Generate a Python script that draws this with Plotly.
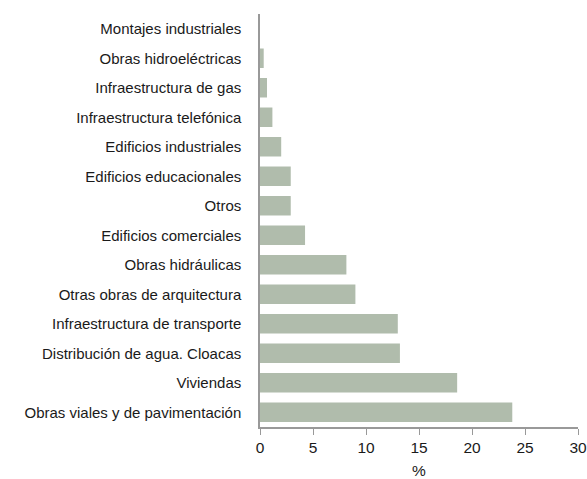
import plotly.graph_objects as go

categories = [
    "Montajes industriales",
    "Obras hidroeléctricas",
    "Infraestructura de gas",
    "Infraestructura telefónica",
    "Edificios industriales",
    "Edificios educacionales",
    "Otros",
    "Edificios comerciales",
    "Obras hidráulicas",
    "Otras obras de arquitectura",
    "Infraestructura de transporte",
    "Distribución de agua. Cloacas",
    "Viviendas",
    "Obras viales y de pavimentación",
]
values = [0.0, 0.35, 0.66, 1.17, 2.0, 2.9, 2.9, 4.25, 8.15, 9.0, 13.0, 13.2, 18.6, 23.8]
x_ticks = [0, 5, 10, 15, 20, 25, 30]

fig = go.Figure(
    go.Bar(
        x=values,
        y=categories,
        orientation="h",
        marker=dict(color="#b0bcac", line=dict(width=0)),
        hoverinfo="skip",
    )
)

fig.update_layout(
    width=587,
    height=479,
    margin=dict(l=260, r=9, t=14, b=52, autoexpand=False),
    plot_bgcolor="white",
    paper_bgcolor="white",
    bargap=0.34,
    showlegend=False,
    font=dict(family="Liberation Sans, Arial, sans-serif", size=15, color="#1a1a1a"),
)
fig.update_xaxes(
    range=[0, 30],
    tickvals=x_ticks,
    ticks="outside",
    ticklen=6,
    tickcolor="#999999",
    showline=True,
    linecolor="#999999",
    linewidth=1.5,
    showgrid=False,
    zeroline=False,
    automargin=False,
    title=dict(text="%", standoff=10, font=dict(size=15.5)),
    tickfont=dict(size=15.5),
)
fig.update_yaxes(
    categoryorder="array",
    categoryarray=categories[::-1],
    showline=True,
    linecolor="#999999",
    linewidth=1.5,
    ticks="",
    showgrid=False,
    automargin=False,
    ticklabelstandoff=14,
    tickfont=dict(size=15),
)

fig.write_html(
    "out.html",
    config={"displayModeBar": False},
    post_script="document.body.style.margin='0';document.body.style.overflow='hidden';",
)
